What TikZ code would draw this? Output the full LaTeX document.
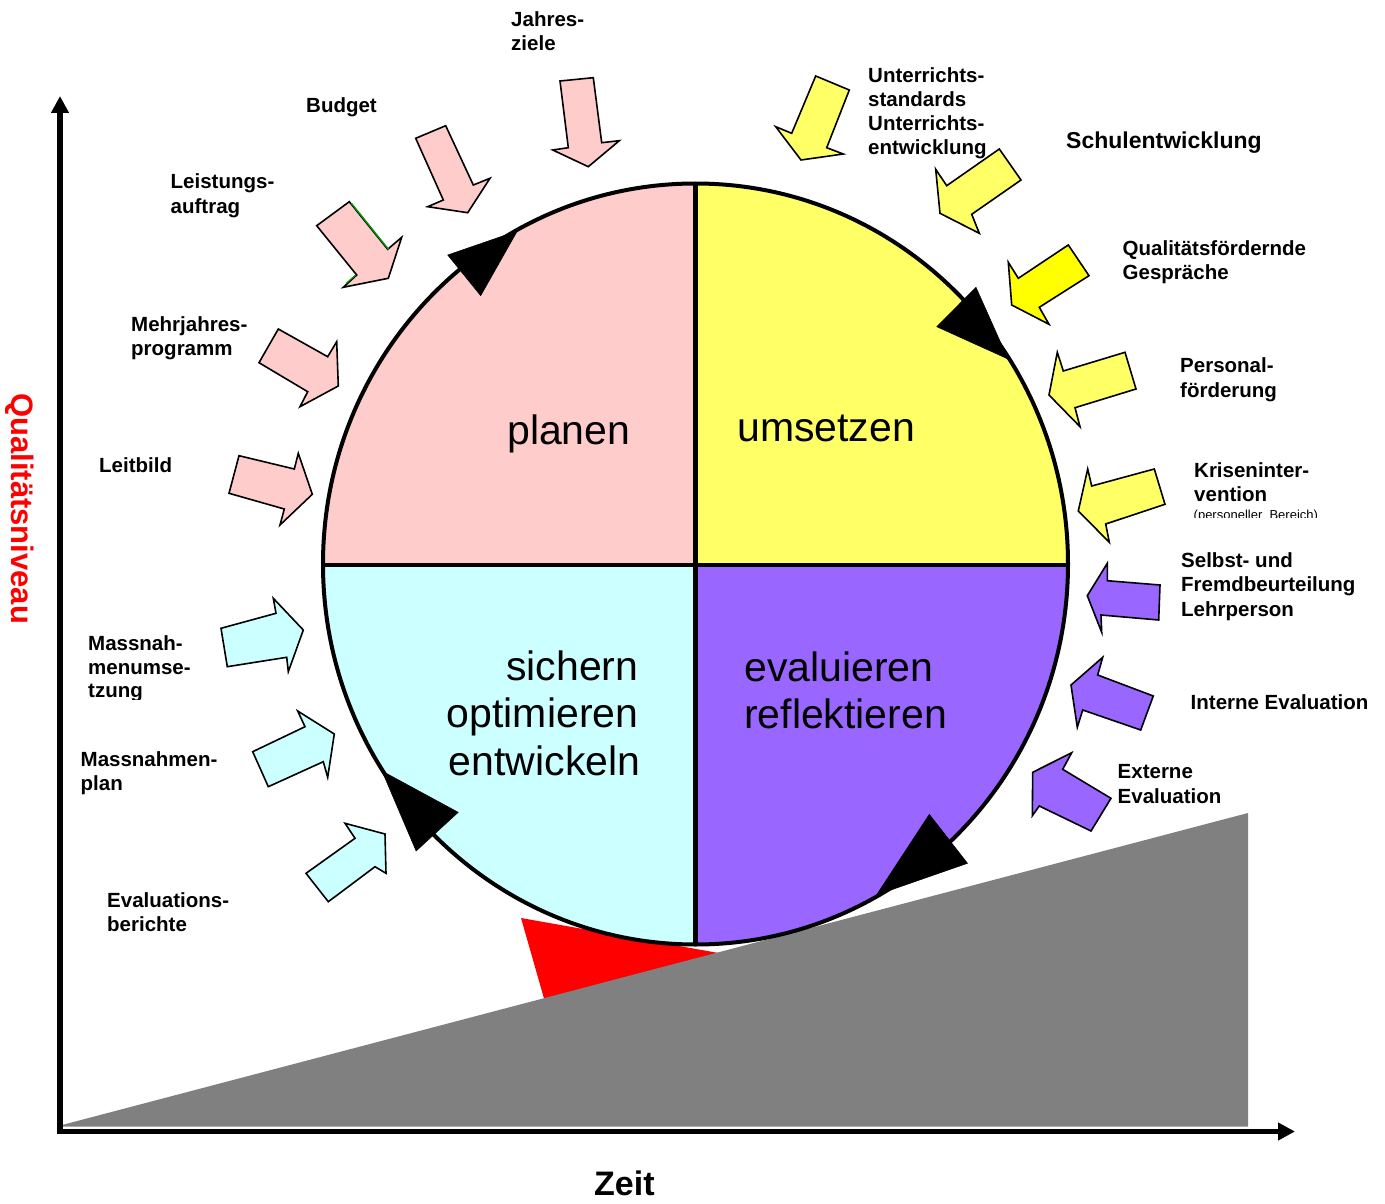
\documentclass[tikz,border=0pt]{standalone}
\usepackage{fontspec}
\setmainfont{Liberation Sans}
\usetikzlibrary{arrows.meta}
\definecolor{cpink}{HTML}{FFCCCC}
\definecolor{cyel}{HTML}{FFFF66}
\definecolor{cyelb}{HTML}{FFFF00}
\definecolor{ccyan}{HTML}{CCFFFF}
\definecolor{cpurp}{HTML}{9966FF}
\definecolor{cgray}{HTML}{808080}
\definecolor{cgreen}{HTML}{009900}
\begin{document}
\begin{tikzpicture}[x=1pt,y=-1pt,
  lab/.style={anchor=base west, inner sep=0pt, font=\fontsize{20.5}{24.5}\selectfont\bfseries},
  big/.style={anchor=base west, inner sep=0pt, font=\fontsize{41}{47.5}\selectfont},
  bigr/.style={anchor=base east, inner sep=0pt, font=\fontsize{41}{47.5}\selectfont},
  blockarrow/.style={draw=black, line width=1.6pt, line join=miter},
  cyclehead/.style={fill=black, draw=black, line width=0.5pt},
  axis/.style={line width=5.5pt, line join=miter,
    {Triangle[length=17pt,width=17pt]}-{Triangle[length=17pt,width=17pt]}}]
\useasboundingbox (0,0) rectangle (1385,1204);
\fill[white] (0,0) rectangle (1385,1204);

% red wedge and grey slope
\fill[red] (521,918) -- (544,998.5) -- (730,955) -- cycle;
\fill[cgray] (62,1125) -- (1248,813) -- (1248,1126.5) -- (62,1126.5) -- cycle;

% circle quadrants
\coordinate (c) at (695.5,564);
\fill[cpink] (c) -- (323,564) arc[start angle=180,end angle=270,x radius=372.5,y radius=380.5] -- cycle;
\fill[cyel] (c) -- (695.5,183.5) arc[start angle=270,end angle=360,x radius=372.5,y radius=380.5] -- cycle;
\fill[cpurp] (c) -- (1068,564) arc[start angle=0,end angle=90,x radius=372.5,y radius=380.5] -- cycle;
\fill[ccyan] (c) -- (695.5,944.5) arc[start angle=90,end angle=180,x radius=372.5,y radius=380.5] -- cycle;
\draw[line width=4pt] (c) ellipse[x radius=372.5,y radius=380.5];
\draw[line width=4.5pt] (695.5,183.5) -- (695.5,944.5);
\draw[line width=4.5pt] (323,565) -- (1068,565);

% cycle arrowheads
\fill[cyclehead] (447.7,255) -- (517.3,231) -- (480.7,295.7) -- cycle;
\fill[cyclehead] (976,287.3) -- (936.7,326.7) -- (1008,359) -- cycle;
\fill[cyclehead] (929.3,814.3) -- (967.5,863.3) -- (876.5,895) -- cycle;
\fill[cyclehead] (382,771) -- (458.2,812.3) -- (416.1,851) -- cycle;

% pink arrows
\draw[blockarrow,fill=cpink] (560,81) -- (593.3,77.7) -- (601.7,142.7) -- (619.3,140.7) -- (588.3,166.7) -- (552.7,150) -- (568.3,147.7) -- cycle;
\draw[blockarrow,fill=cpink] (415.7,138.3) -- (445.7,125.7) -- (473.3,185) -- (490,178.3) -- (467.7,212.7) -- (427.7,206.7) -- (443.3,200) -- cycle;
\draw[blockarrow,fill=cpink] (316.7,225.7) -- (349.3,201.7) -- (387.7,249.3) -- (401.7,237.3) -- (388.3,278.3) -- (343.3,287.3) -- (356.7,275) -- cycle;
\draw[cgreen,line width=1.4pt] (351.3,203.2) -- (388.7,249.6);
\draw[cgreen,line width=1.2pt] (346,283.5) -- (355.5,275.2);
\draw[blockarrow,fill=cpink] (278.3,329) -- (327.7,356.7) -- (336.7,341.7) -- (338.3,386) -- (300,406.7) -- (307.7,391.7) -- (259,362.7) -- cycle;
\draw[blockarrow,fill=cpink] (239,455.7) -- (294.3,469) -- (298.3,453.3) -- (312.3,494.3) -- (280,525) -- (284.3,509) -- (229,493.3) -- cycle;

% cyan arrows
\draw[blockarrow,fill=ccyan] (221,628.3) -- (276,613.3) -- (273.3,598.3) -- (303.3,630) -- (288.3,671.7) -- (286.7,657.3) -- (227.3,666.7) -- cycle;
\draw[blockarrow,fill=ccyan] (252.7,751.7) -- (305,726.7) -- (297.7,711) -- (334.3,734) -- (327.7,777.3) -- (323.3,761.7) -- (268.3,786.7) -- cycle;
\draw[blockarrow,fill=ccyan] (306,873.3) -- (355,838.3) -- (345,823.3) -- (385,834) -- (386,873.3) -- (375,866.7) -- (328.3,901.7) -- cycle;

% yellow arrows
\draw[blockarrow,fill=cyel] (815.7,76) -- (849.3,90) -- (826.7,147.7) -- (843.3,154) -- (801,160) -- (775.7,126.7) -- (791.7,133.3) -- cycle;
\draw[blockarrow,fill=cyel] (999.3,149) -- (1021,180) -- (971.7,214.3) -- (979.3,233.3) -- (940,213.3) -- (935.7,169.3) -- (946.7,185.7) -- cycle;
\draw[blockarrow,fill=cyelb] (1068.3,245) -- (1089,275.7) -- (1039.3,307.3) -- (1049,324.3) -- (1011.7,305) -- (1008.3,262.3) -- (1018.3,278.3) -- cycle;
\draw[blockarrow,fill=cyel] (1125,352.3) -- (1136,389) -- (1075,407.7) -- (1080,426.7) -- (1049,395) -- (1057.3,352.3) -- (1063.3,371) -- cycle;
\draw[blockarrow,fill=cyel] (1154.3,469) -- (1165,504.3) -- (1105.7,524) -- (1109.3,542.3) -- (1078.3,511) -- (1087.7,469) -- (1091.7,486) -- cycle;

% purple arrows
\draw[blockarrow,fill=cpurp] (1160,585) -- (1158.7,620) -- (1101,615) -- (1101.7,632.3) -- (1087.3,595.7) -- (1107.3,563.3) -- (1107.3,580.7) -- cycle;
\draw[blockarrow,fill=cpurp] (1153.3,696) -- (1140.7,730) -- (1082.7,710) -- (1077.3,727.3) -- (1071,685) -- (1102.7,657.3) -- (1097.7,675) -- cycle;
\draw[blockarrow,fill=cpurp] (1111,798.3) -- (1091,831) -- (1039.3,806) -- (1032.3,815.7) -- (1032.7,772.3) -- (1071.7,752.7) -- (1062.7,769.3) -- cycle;

% quadrant texts
\node[big] (planen) at (507,444) {planen};
\node[big] (umsetzen) at (737,441) {umsetzen};
\node[bigr] (sichern) at (638.5,680) {sichern};
\node[bigr] (optimieren) at (638.5,727.5) {optimieren};
\node[bigr] (entwickeln) at (640.5,775) {entwickeln};
\node[big] (evaluieren) at (744,681) {evaluieren};
\node[big] (reflektieren) at (744,728.5) {reflektieren};

% labels left
\node[lab] (jz1) at (511,26.5) {Jahres-};
\node[lab] (jz2) at (511,51) {ziele};
\node[lab] (bud) at (306,113) {Budget};
\node[lab] (la1) at (170.5,189) {Leistungs-};
\node[lab] (la2) at (170.5,213) {auftrag};
\node[lab] (mj1) at (131,331) {Mehrjahres-};
\node[lab] (mj2) at (131,355) {programm};
\node[lab] (lb) at (99,472.5) {Leitbild};
\node[lab] (mu1) at (88,650) {Massnah-};
\node[lab] (mu2) at (88,674.5) {menumse-};
\begin{scope}
\clip (80,680) rectangle (220,699.5);
\node[lab] (mu3) at (88,697.5) {tzung};
\end{scope}
\node[lab] (mp1) at (80.5,766.5) {Massnahmen-};
\node[lab] (mp2) at (80.5,790) {plan};
\node[lab] (eb1) at (107,907) {Evaluations-};
\node[lab] (eb2) at (107,931) {berichte};

% labels right
\node[lab] (ur1) at (868,83) {Unterrichts-};
\node[lab] (ur2) at (868,107) {standards};
\node[lab] (ur3) at (868,131) {Unterrichts-};
\node[lab] (ur4) at (868,155) {entwicklung};
\node[lab,font=\fontsize{23}{27}\selectfont\bfseries] (se) at (1066,149) {Schulentwicklung};
\node[lab] (qf1) at (1122.5,255) {Qualitätsfördernde};
\node[lab] (qf2) at (1122.5,279) {Gespräche};
\node[lab] (pf1) at (1180,372) {Personal-};
\node[lab] (pf2) at (1180,397) {förderung};
\node[lab] (ki1) at (1194,477) {Kriseninter-};
\node[lab] (ki2) at (1194,501) {vention};
\begin{scope}
\clip (1185,505) rectangle (1340,517.7);
\node[anchor=base west, inner sep=0pt, font=\fontsize{13}{15}\selectfont] (ki3) at (1193.5,519) {(personeller\ \ Bereich)};
\end{scope}
\node[lab] (sf1) at (1181,567) {Selbst- und};
\node[lab] (sf2) at (1181,591.5) {Fremdbeurteilung};
\node[lab] (sf3) at (1181,616) {Lehrperson};
\node[lab] (ie) at (1190.5,709) {Interne Evaluation};
\node[lab] (ee1) at (1117.5,778) {Externe};
\node[lab] (ee2) at (1117.5,803) {Evaluation};

% axes
\coordinate (ytop) at (60,96);
\coordinate (origin) at (60,1131.5);
\coordinate (xend) at (1295,1131.5);
\draw[axis] (ytop) -- (origin) -- (xend);
\node[anchor=base west, inner sep=0pt, rotate=-90, text=red, font=\fontsize{31}{36}\selectfont\bfseries] (qn) at (12,393) {Qualitätsniveau};
\node[anchor=base west, inner sep=0pt, font=\fontsize{34}{40}\selectfont\bfseries] (zeit) at (594,1195) {Zeit};
\end{tikzpicture}
\end{document}
